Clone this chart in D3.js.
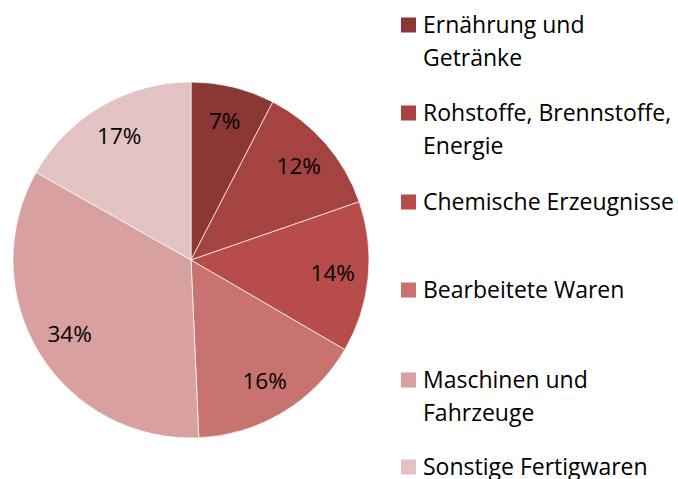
<!DOCTYPE html>
<html>
<head>
<meta charset="utf-8">
<script src="https://cdn.jsdelivr.net/npm/d3@7"></script>
<style>
  body { margin: 0; background: #fff; }
  text { font-family: "Open Sans", sans-serif; fill: #000; }
</style>
</head>
<body>
<div id="chart"></div>
<script>
// Warengruppen und Anteile (in %)
var categories = [
    "Ernährung und\nGetränke",
    "Rohstoffe, Brennstoffe,\nEnergie",
    "Chemische Erzeugnisse",
    "Bearbeitete Waren",
    "Maschinen und\nFahrzeuge",
    "Sonstige Fertigwaren"
];
var values = [7.6, 12.1, 13.7, 15.9, 33.9, 16.8];
var labels = ["7%", "12%", "14%", "16%", "34%", "17%"];
var colors = ["#8b3735", "#a54341", "#b84c4a", "#c87370", "#d8a1a0", "#e2c2c3"];

var W = 678, H = 479;
var cx = 191, cy = 260, R = 178;

var svg = d3.select("#chart").append("svg")
    .attr("width", W)
    .attr("height", H);

var pie = d3.pie().sort(null).value(function(d) { return d; });
var arcs = pie(values);
var arc = d3.arc().innerRadius(0).outerRadius(R);
var labelArc = d3.arc().innerRadius(R * 0.8).outerRadius(R * 0.8);

var g = svg.append("g").attr("transform", "translate(" + cx + "," + cy + ")");

g.selectAll("path.slice")
    .data(arcs)
    .enter().append("path")
    .attr("class", "slice")
    .attr("d", arc)
    .attr("fill", function(d, i) { return colors[i]; })
    .attr("stroke", "#fff")
    .attr("stroke-width", 0.7);

g.selectAll("text.pct")
    .data(arcs)
    .enter().append("text")
    .attr("class", "pct")
    .attr("transform", function(d) { return "translate(" + labelArc.centroid(d) + ")"; })
    .attr("text-anchor", "middle")
    .attr("dy", "0.33em")
    .style("font-size", "22.5px")
    .text(function(d, i) { return labels[i]; });

// Legende
var legY = [25, 113, 202, 290, 380, 467];
var legend = svg.selectAll("g.leg")
    .data(categories)
    .enter().append("g")
    .attr("class", "leg")
    .attr("transform", function(d, i) { return "translate(401," + legY[i] + ")"; });

legend.append("rect")
    .attr("x", 0)
    .attr("y", -7.5)
    .attr("width", 15)
    .attr("height", 15)
    .attr("fill", function(d, i) { return colors[i]; });

legend.append("text")
    .attr("x", 22)
    .attr("y", 8)
    .style("font-size", "23px")
    .selectAll("tspan")
    .data(function(d) { return d.split("\n"); })
    .enter().append("tspan")
    .attr("x", 22)
    .attr("dy", function(d, i) { return i ? 33 : 0; })
    .text(function(d) { return d; });
</script>
</body>
</html>
